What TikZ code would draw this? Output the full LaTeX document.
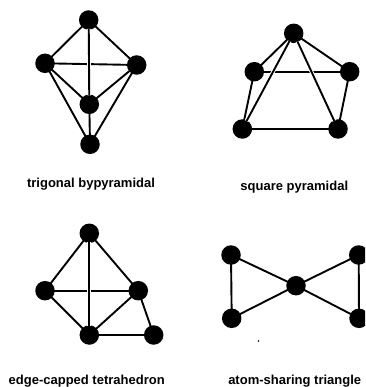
\documentclass[tikz,border=0pt]{standalone}
\usepackage{fontspec}
\setmainfont{Liberation Sans}
\begin{document}
\begin{tikzpicture}[
    x=1pt, y=-1pt,
    atom/.style={circle, fill=black, inner sep=0pt, minimum size=19.5pt},
    speck/.style={circle, fill=black, inner sep=0pt, minimum size=1.8pt},
    bond/.style={line width=1.9pt, shorten >=-1pt, shorten <=-1pt},
    front/.style={preaction={draw, white, line width=3.8pt}},
    caption/.style={font=\fontsize{13}{15}\selectfont\bfseries},
]
    \clip (0,0) rectangle (365,387);

    % trigonal bypyramidal
    \node[atom] (t1) at (88.7,20) {};
    \node[atom] (t2) at (45,63.3) {};
    \node[atom] (t3) at (136.7,65) {};
    \node[atom] (t4) at (89.3,104.3) {};
    \node[atom] (t5) at (90,144.3) {};
    \draw[bond] (t2) -- (t3);
    \foreach \a/\b in {t1/t2, t1/t3, t2/t4, t3/t4, t2/t5, t3/t5, t4/t5} {
        \draw[bond] (\a) -- (\b);
    }
    \draw[bond, front] (t1) -- (t4);
    \node[caption] (tlabel) at (91,184) {trigonal bypyramidal};

    % square pyramidal
    \node[atom] (s1) at (293.7,33.3) {};
    \node[atom] (s2) at (254.3,71.7) {};
    \node[atom] (s3) at (349.7,71.7) {};
    \node[atom] (s4) at (242.3,129) {};
    \node[atom] (s5) at (338,129) {};
    \draw[bond] (s2) -- (s3);
    \foreach \a/\b in {s1/s2, s1/s3, s2/s4, s3/s5, s4/s5} {
        \draw[bond] (\a) -- (\b);
    }
    \draw[bond, front] (s1) -- (s4);
    \draw[bond, front] (s1) -- (s5);
    \node[caption] (slabel) at (294.3,187.5) {square pyramidal};

    % edge-capped tetrahedron
    \node[atom] (e1) at (89.3,233.3) {};
    \node[atom] (e2) at (45,290.7) {};
    \node[atom] (e3) at (138.3,290.7) {};
    \node[atom] (e4) at (89.3,335) {};
    \node[atom] (e5) at (153.7,335) {};
    \draw[bond] (e2) -- (e3);
    \foreach \a/\b in {e1/e2, e1/e3, e2/e4, e3/e4, e3/e5, e4/e5} {
        \draw[bond] (\a) -- (\b);
    }
    \draw[bond, front] (e1) -- (e4);
    \node[caption] (elabel) at (86.7,381.5) {edge-capped tetrahedron};

    % atom-sharing triangle
    \node[atom] (a1) at (231,255) {};
    \node[atom] (a2) at (231.7,318.3) {};
    \node[atom] (a3) at (296,285.7) {};
    \node[atom] (a4) at (358.7,255) {};
    \node[atom] (a5) at (359,318.3) {};
    \foreach \a/\b in {a1/a2, a1/a3, a2/a3, a3/a4, a3/a5, a4/a5} {
        \draw[bond] (\a) -- (\b);
    }
    \node[speck] (dot) at (258.5,341) {};
    \node[caption] (alabel) at (294.7,381.5) {atom-sharing triangle};
\end{tikzpicture}
\end{document}
